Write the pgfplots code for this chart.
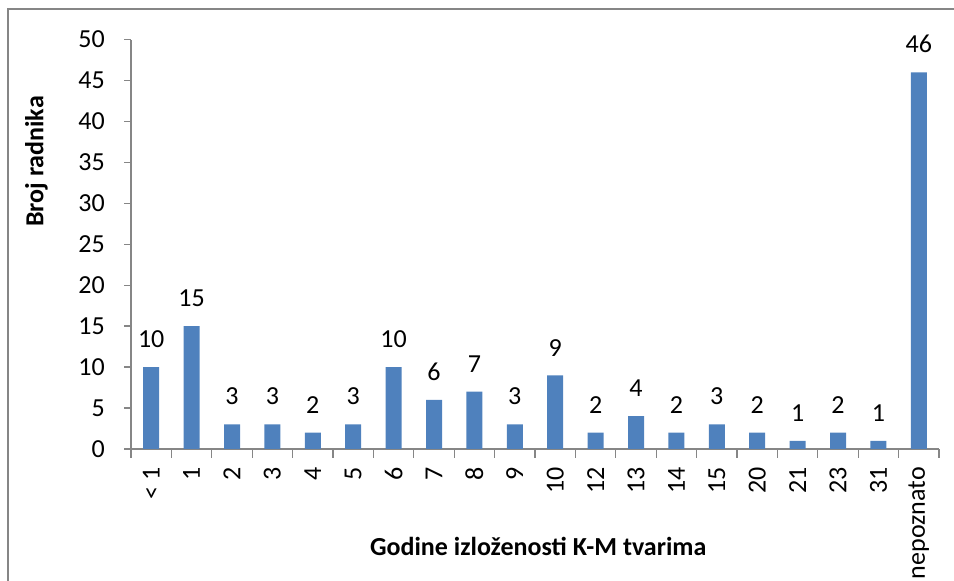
\documentclass[border=0pt]{standalone}
\usepackage{fontspec}
\setmainfont{Carlito}
\usepackage{pgfplots}
\pgfplotsset{compat=1.18}
\definecolor{barblue}{HTML}{4F81BD}
\definecolor{axgray}{HTML}{868686}
\begin{document}
\begin{tikzpicture}
\useasboundingbox (0,0) rectangle (715.5pt,435.75pt);
\draw[axgray, line width=1pt] (6pt,-10pt) -- (6pt,429pt) -- (730pt,429pt);
\begin{axis}[
  at={(98.25pt,99pt)}, anchor=south west,
  scale only axis, width=606pt, height=307.1pt,
  ymin=0, ymax=50, ytick={0,5,...,50},
  xmin=-0.5, xmax=19.5,
  xtick={0,...,19},
  xticklabels={{< 1},1,2,3,4,5,6,7,8,9,10,12,13,14,15,20,21,23,31,nepoznato},
  minor xtick={-0.5,0.5,...,19.5},
  axis x line*=bottom, axis y line*=left,
  axis line style={axgray, line width=1pt, -},
  tick align=outside,
  major x tick style={draw=none},
  minor x tick style={axgray, line width=1pt},
  ytick style={axgray, line width=1pt},
  major tick length=5pt,
  minor tick length=6.5pt,
  /pgf/number format/assume math mode=true,
  tick label style={font=\fontsize{19.5}{23}\selectfont, text=black},
  xticklabel style={rotate=90, anchor=east, inner sep=0pt, xshift=-8.5pt},
  yticklabel style={anchor=east, inner sep=0pt, xshift=-14.5pt},
  ylabel={Broj radnika},
  ylabel style={at={(axis description cs:-0.117,0.702)}, anchor=center, font=\bfseries\fontsize{19.5}{23}\selectfont},
  xlabel={Godine izloženosti K-M tvarima},
  xlabel style={at={(axis description cs:0.504,-0.261)}, anchor=base, font=\bfseries\fontsize{19.5}{23}\selectfont},
  ybar, bar width=12pt,
  nodes near coords,
  every node near coord/.append style={font=\fontsize{19.5}{23}\selectfont, text=black, anchor=south, inner sep=0pt, yshift=14.25pt},
]
\addplot[fill=barblue, draw=none] coordinates {
(0,10) (1,15) (2,3) (3,3) (4,2) (5,3) (6,10) (7,6) (8,7) (9,3)
(10,9) (11,2) (12,4) (13,2) (14,3) (15,2) (16,1) (17,2) (18,1) (19,46)
};
\end{axis}
\end{tikzpicture}
\end{document}
